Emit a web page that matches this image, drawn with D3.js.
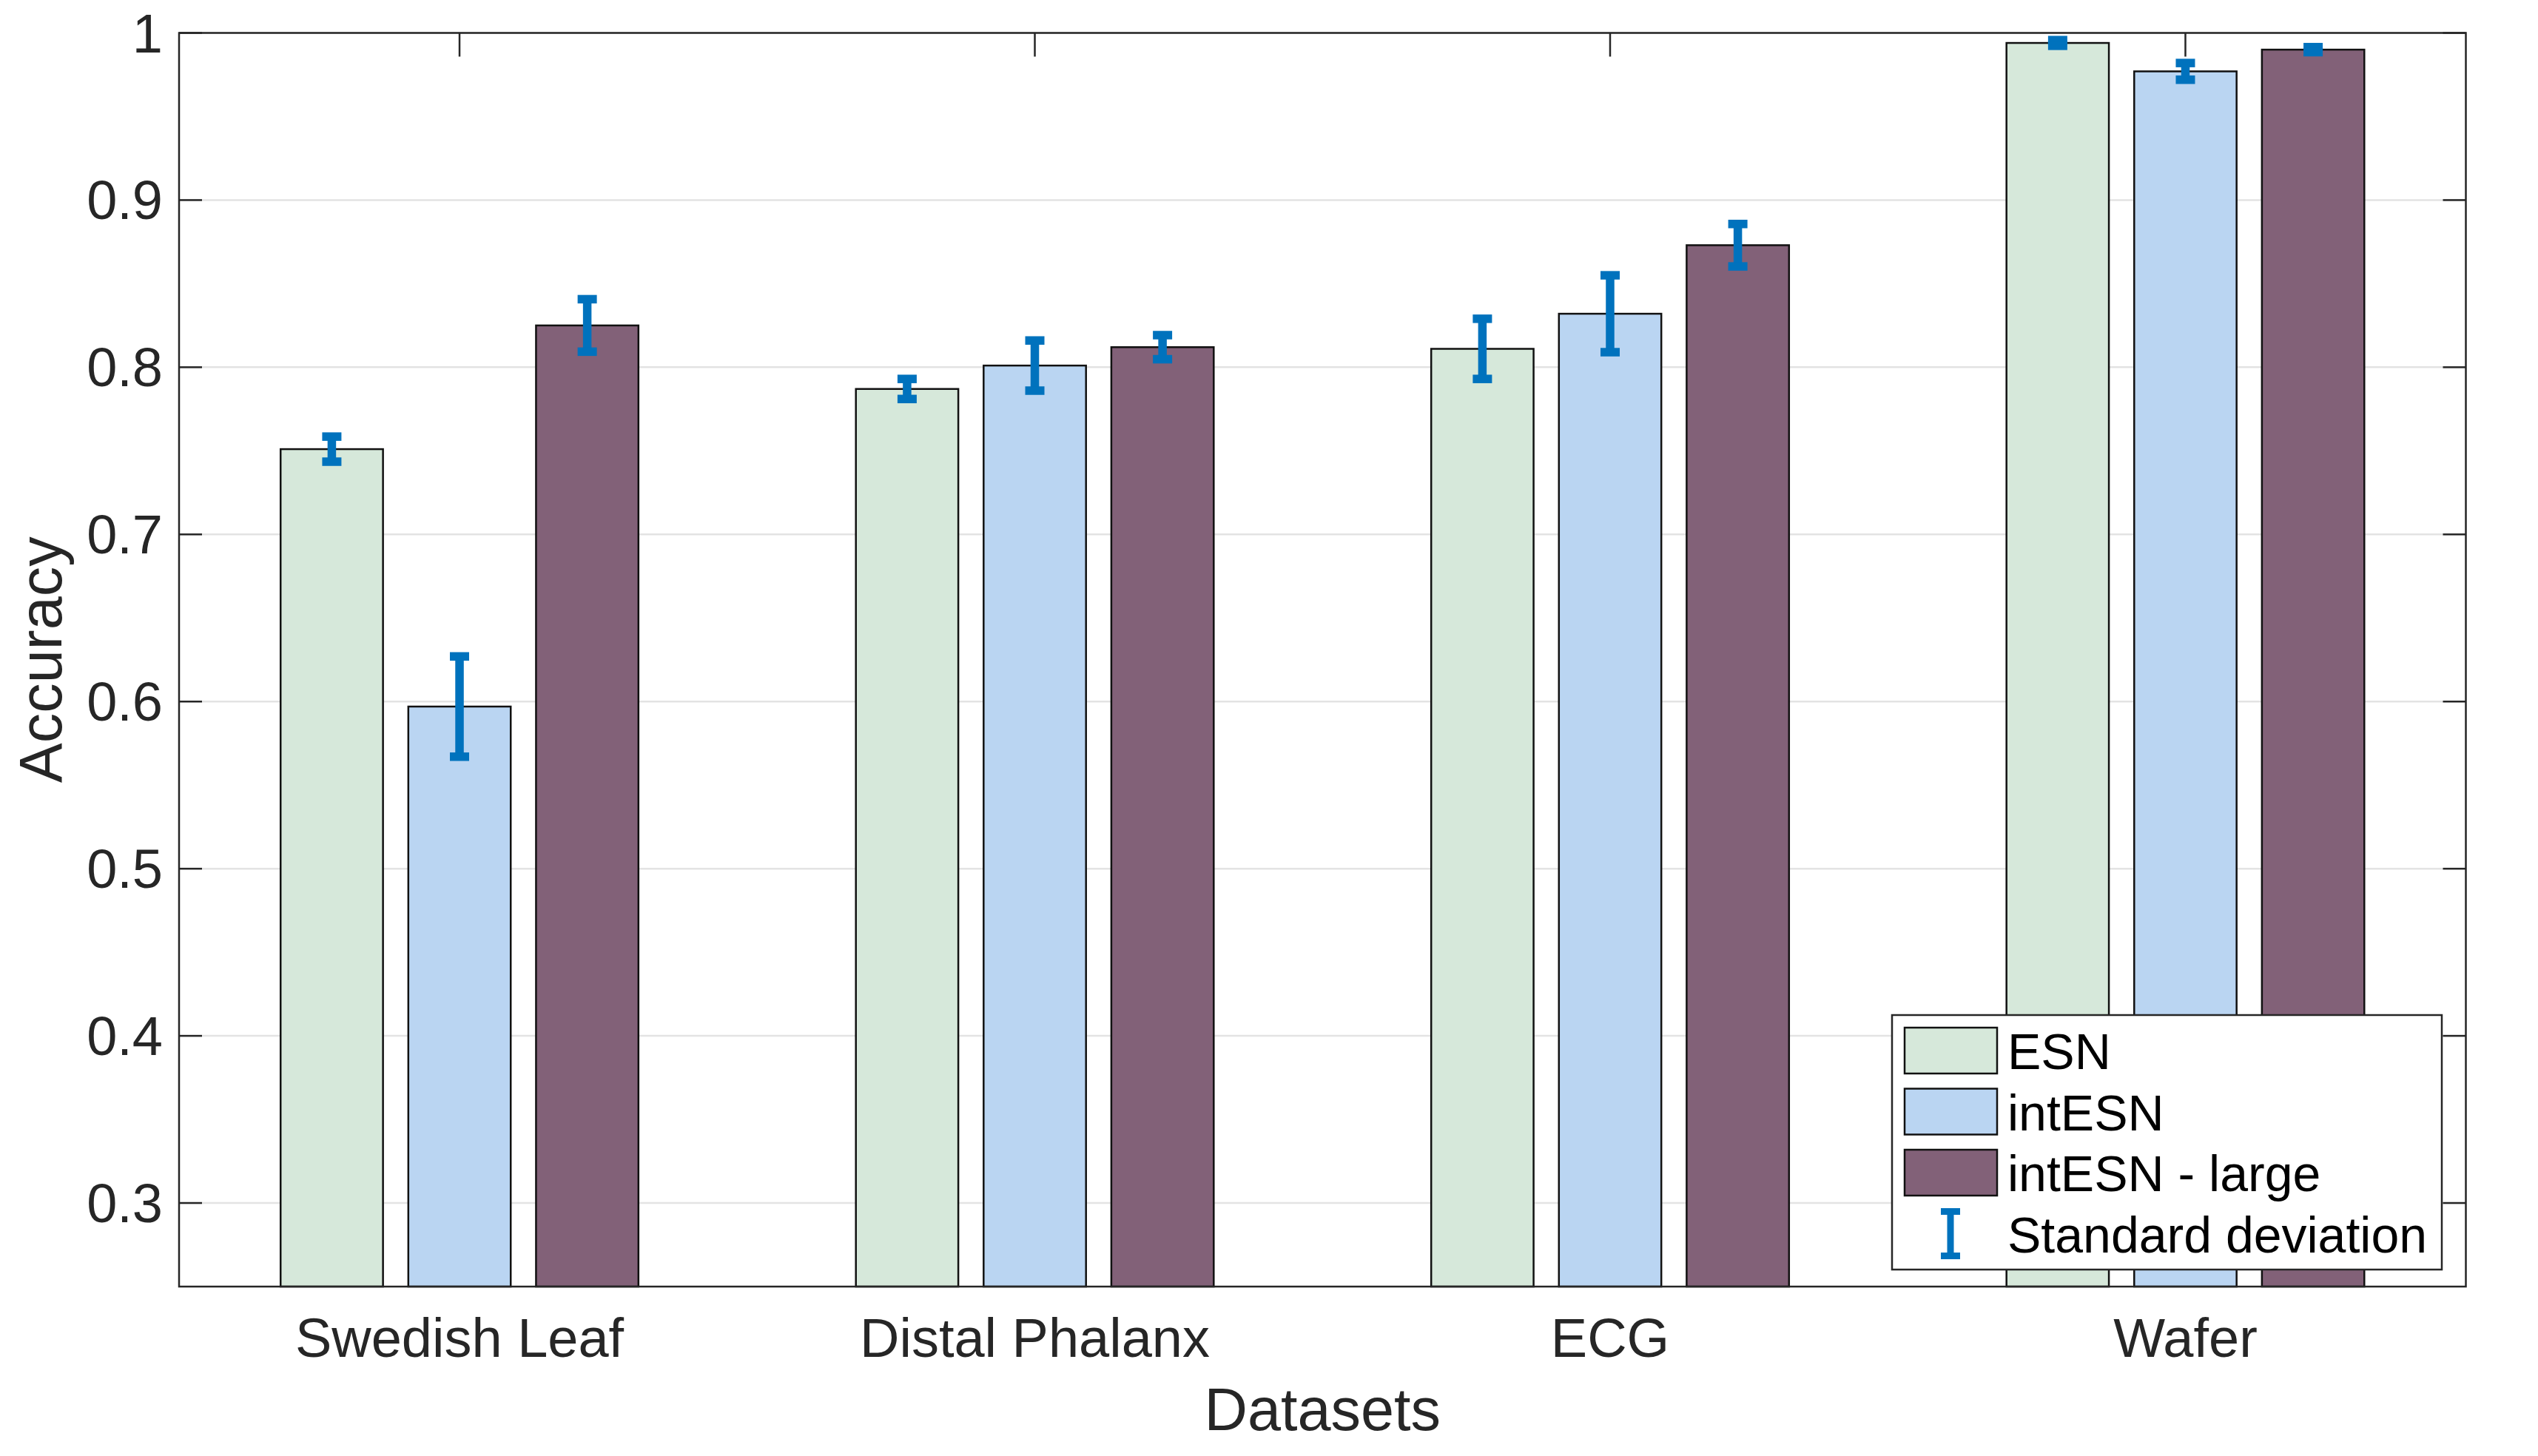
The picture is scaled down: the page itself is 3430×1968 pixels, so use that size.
<!DOCTYPE html>
<html>
<head>
<meta charset="utf-8">
<script src="https://cdn.jsdelivr.net/npm/d3@7"></script>
<style>
  html, body { margin: 0; padding: 0; background: #fff; }
  svg { display: block; font-family: "Liberation Sans", Arial, Helvetica, sans-serif; }
</style>
</head>
<body>
<svg id="chart" width="3430" height="1968"></svg>
<script>
// data
const datasets = ["Swedish Leaf", "Distal Phalanx", "ECG", "Wafer"];
const seriesNames = ["ESN", "intESN", "intESN - large"];
const seriesColors = ["#d6e8da", "#bad5f2", "#826178"];
const esn = [0.751, 0.787, 0.811, 0.994];
const intEsn = [0.597, 0.801, 0.832, 0.977];
const intEsnLarge = [0.825, 0.812, 0.873, 0.990];
const esnStd = [0.0075, 0.006, 0.018, 0.0017];
const intEsnStd = [0.030, 0.015, 0.023, 0.005];
const intEsnLargeStd = [0.0157, 0.0072, 0.0127, 0.0015];
const yTicks = [0.3, 0.4, 0.5, 0.6, 0.7, 0.8, 0.9, 1];

const values = [esn, intEsn, intEsnLarge];
const stds = [esnStd, intEsnStd, intEsnLargeStd];

const margin = { top: 44.5, right: 97.5, bottom: 229, left: 242 };
const W = 3430, H = 1968;
const x0 = margin.left, x1 = W - margin.right;
const yTop = margin.top, yBot = H - margin.bottom;

const svg = d3.select("#chart");

const x = d3.scaleLinear().domain([0.5125, 4.4875]).range([x0, x1]);
const y = d3.scaleLinear().domain([0.25, 1]).range([yBot, yTop]);

const unit = x(2) - x(1);
const barW = 0.178 * unit;
const offsets = [-0.222, 0, 0.222];
const axisColor = "#262626";
const errColor = "#0072BD";

// grid lines
svg.append("g").selectAll("line")
  .data(yTicks)
  .join("line")
  .attr("x1", x0).attr("x2", x1)
  .attr("y1", d => y(d)).attr("y2", d => y(d))
  .attr("stroke", "#e3e3e3")
  .attr("stroke-width", 2.5);

// tick marks (inward, mirrored)
const ticks = svg.append("g").attr("stroke", axisColor).attr("stroke-width", 2.5);
yTicks.forEach(t => {
  ticks.append("line").attr("x1", x0).attr("x2", x0 + 31).attr("y1", y(t)).attr("y2", y(t));
  ticks.append("line").attr("x1", x1).attr("x2", x1 - 31).attr("y1", y(t)).attr("y2", y(t));
});
datasets.forEach((d, i) => {
  ticks.append("line").attr("x1", x(i + 1)).attr("x2", x(i + 1)).attr("y1", yTop).attr("y2", yTop + 32);
  ticks.append("line").attr("x1", x(i + 1)).attr("x2", x(i + 1)).attr("y1", yBot).attr("y2", yBot - 32);
});

// bars
const barData = [];
seriesNames.forEach((s, si) => {
  datasets.forEach((d, di) => {
    barData.push({ si, di, v: values[si][di], sd: stds[si][di] });
  });
});

svg.append("g").selectAll("rect")
  .data(barData)
  .join("rect")
  .attr("x", d => x(d.di + 1 + offsets[d.si]) - barW / 2)
  .attr("width", barW)
  .attr("y", d => y(d.v))
  .attr("height", d => yBot - y(d.v))
  .attr("fill", d => seriesColors[d.si])
  .attr("stroke", "#111")
  .attr("stroke-width", 2.5);

// error bars
const capW = 26, errLw = 11.5;
const err = svg.append("g").attr("stroke", errColor).attr("stroke-width", errLw);
barData.forEach(d => {
  const cx = x(d.di + 1 + offsets[d.si]);
  const yt = y(d.v + d.sd), yb = y(d.v - d.sd);
  err.append("line").attr("x1", cx).attr("x2", cx).attr("y1", yt).attr("y2", yb);
  err.append("line").attr("x1", cx - capW / 2).attr("x2", cx + capW / 2).attr("y1", yt).attr("y2", yt);
  err.append("line").attr("x1", cx - capW / 2).attr("x2", cx + capW / 2).attr("y1", yb).attr("y2", yb);
});

// axes box
svg.append("rect")
  .attr("x", x0).attr("y", yTop)
  .attr("width", x1 - x0).attr("height", yBot - yTop)
  .attr("fill", "none")
  .attr("stroke", axisColor)
  .attr("stroke-width", 2.5);

// y tick labels
svg.append("g").selectAll("text")
  .data(yTicks)
  .join("text")
  .attr("x", x0 - 22)
  .attr("y", d => y(d) + 26)
  .attr("text-anchor", "end")
  .attr("font-size", 74)
  .attr("fill", axisColor)
  .text(d => d3.format("~g")(d));

// x tick labels
svg.append("g").selectAll("text")
  .data(datasets)
  .join("text")
  .attr("x", (d, i) => x(i + 1))
  .attr("y", 1834)
  .attr("text-anchor", "middle")
  .attr("font-size", 74)
  .attr("fill", axisColor)
  .text(d => d);

// axis titles
svg.append("text")
  .attr("x", (x0 + x1) / 2)
  .attr("y", 1933)
  .attr("text-anchor", "middle")
  .attr("font-size", 81)
  .attr("fill", axisColor)
  .text("Datasets");

svg.append("text")
  .attr("transform", `translate(83,${(yTop + yBot) / 2}) rotate(-90)`)
  .attr("text-anchor", "middle")
  .attr("font-size", 81)
  .attr("fill", axisColor)
  .text("Accuracy");

// legend
const legend = svg.append("g");
legend.append("rect")
  .attr("x", 2557).attr("y", 1372)
  .attr("width", 743).attr("height", 344)
  .attr("fill", "#fff")
  .attr("stroke", axisColor)
  .attr("stroke-width", 2.5);

const rowY = i => 1420 + i * 82.5;
legend.selectAll("rect.sw")
  .data(seriesNames)
  .join("rect")
  .attr("class", "sw")
  .attr("x", 2574).attr("y", (d, i) => rowY(i) - 31)
  .attr("width", 125).attr("height", 62)
  .attr("fill", (d, i) => seriesColors[i])
  .attr("stroke", "#111")
  .attr("stroke-width", 2.5);

const legendLabels = seriesNames.concat(["Standard deviation"]);
legend.selectAll("text")
  .data(legendLabels)
  .join("text")
  .attr("x", 2713)
  .attr("y", (d, i) => rowY(i) + 25)
  .attr("font-size", 68)
  .attr("fill", "#000")
  .text(d => d);

// legend error bar icon
const iy = rowY(3), ix = 2636;
const icon = legend.append("g").attr("stroke", errColor).attr("stroke-width", 9);
icon.append("line").attr("x1", ix).attr("x2", ix).attr("y1", iy - 30).attr("y2", iy + 30);
icon.append("line").attr("x1", ix - 13).attr("x2", ix + 13).attr("y1", iy - 30).attr("y2", iy - 30);
icon.append("line").attr("x1", ix - 13).attr("x2", ix + 13).attr("y1", iy + 30).attr("y2", iy + 30);
</script>
</body>
</html>
